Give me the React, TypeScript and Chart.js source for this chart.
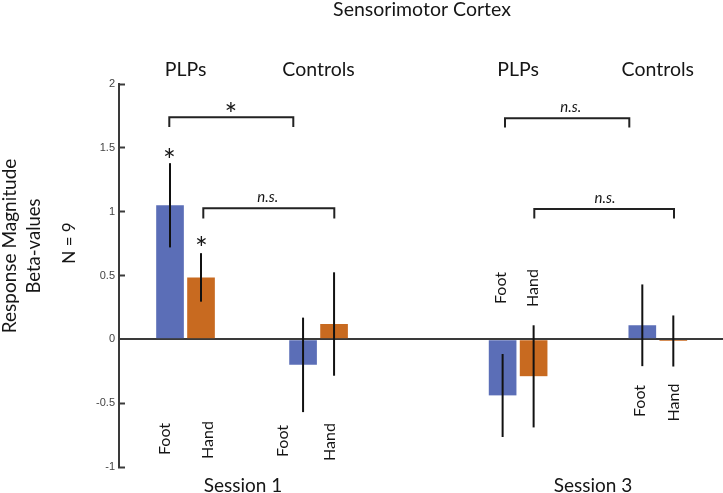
import React, { useEffect, useRef } from 'react';
import { Chart, registerables } from 'chart.js';

Chart.register(...registerables);

// ---- data ----
const groupLabels = ['PLPs', 'Controls', 'PLPs', 'Controls'];
const sessionLabels = ['Session 1', 'Session 3'];
const conditionLabels = ['Foot', 'Hand'];
const groupSlots = [1, 3, 6, 8.1];
const footValues = [1.05, -0.2, -0.44, 0.11];
const handValues = [0.485, 0.12, -0.29, -0.013];
const footErrors = [0.33, 0.37, 0.325, 0.32];
const handErrors = [0.19, 0.405, 0.4, 0.2];
const yMin = -1;
const yMax = 2;
const yStep = 0.5;

const BLUE = '#5B6EB7';
const ORANGE = '#C86A20';
const AXIS = '#3a3a3a';
const INK = '#161616';
const FONT = 'Lato, "Open Sans", sans-serif';

function drawText(
  ctx: CanvasRenderingContext2D,
  s: string,
  cx: number,
  cy: number,
  font: string,
  rot = 0,
  color = INK
) {
  ctx.save();
  ctx.font = font;
  ctx.fillStyle = color;
  ctx.textAlign = 'center';
  ctx.textBaseline = 'alphabetic';
  const m = ctx.measureText(s);
  const off = (m.actualBoundingBoxAscent - m.actualBoundingBoxDescent) / 2;
  ctx.translate(cx, cy);
  ctx.rotate(rot);
  ctx.fillText(s, 0, off);
  ctx.restore();
}

const annotationPlugin = {
  id: 'annotations',
  afterDraw(chart: any) {
    const ctx: CanvasRenderingContext2D = chart.ctx;
    const xs = chart.scales.x;
    const ys = chart.scales.y;

    // error bars
    const errs = [footErrors, handErrors];
    const vals = [footValues, handValues];
    ctx.save();
    ctx.strokeStyle = '#111';
    ctx.lineWidth = 2;
    for (let d = 0; d < 2; d++) {
      const meta = chart.getDatasetMeta(d);
      meta.data.forEach((bar: any, i: number) => {
        const top = ys.getPixelForValue(vals[d][i] + errs[d][i]);
        const bot = ys.getPixelForValue(vals[d][i] - errs[d][i]);
        ctx.beginPath();
        ctx.moveTo(bar.x, top);
        ctx.lineTo(bar.x, bot);
        ctx.stroke();
      });
    }
    ctx.restore();

    // title
    drawText(ctx, 'Sensorimotor Cortex', 422, 9, `19.5px ${FONT}`);

    // group labels
    groupLabels.forEach((g, i) => {
      drawText(ctx, g, xs.getPixelForValue(groupSlots[i]), 69, `19.5px ${FONT}`);
    });

    // session labels
    drawText(ctx, sessionLabels[0], 243, 485, `19px ${FONT}`);
    drawText(ctx, sessionLabels[1], 593, 485, `19px ${FONT}`);

    // y axis titles
    const R = -Math.PI / 2;
    drawText(ctx, 'Response Magnitude', 10, 246, `19px ${FONT}`, R);
    drawText(ctx, 'Beta-values', 33, 246, `18.5px ${FONT}`, R);
    drawText(ctx, 'N = 9', 68, 243, `17px ${FONT}`, R);

    // rotated condition labels
    const condPos: [number, number][][] = [
      [[164, 439], [207, 440]],
      [[282.5, 441], [329.7, 442]],
      [[500, 288], [532, 288]],
      [[639.3, 401], [673, 402.5]],
    ];
    condPos.forEach((pair) => {
      pair.forEach((p, c) => drawText(ctx, conditionLabels[c], p[0], p[1], `16px ${FONT}`, R));
    });

    // brackets
    ctx.save();
    ctx.strokeStyle = '#222';
    ctx.lineWidth = 2;
    const bracket = (x1: number, x2: number, y: number, y2: number) => {
      ctx.beginPath();
      ctx.moveTo(x1, y2);
      ctx.lineTo(x1, y);
      ctx.lineTo(x2, y);
      ctx.lineTo(x2, y2);
      ctx.stroke();
    };
    bracket(169.3, 293.3, 117.3, 127);
    bracket(203.3, 334.3, 208.3, 218.5);
    bracket(505, 629.3, 118.3, 127.5);
    bracket(534.3, 674, 209, 218.5);
    ctx.restore();

    // significance marks
    const starFont = `30px ${FONT}`;
    drawText(ctx, '*', 231, 106.7, starFont);
    drawText(ctx, '*', 169.3, 152.7, starFont);
    drawText(ctx, '*', 201.3, 240.7, starFont);
    const nsFont = `italic 15px ${FONT}`;
    drawText(ctx, 'n.s.', 267.7, 198, nsFont);
    drawText(ctx, 'n.s.', 570.7, 108.3, nsFont);
    drawText(ctx, 'n.s.', 605, 199.3, nsFont);
  },
};

export default function App() {
  const ref = useRef<HTMLCanvasElement | null>(null);

  useEffect(() => {
    if (!ref.current) return;
    const barCommon = {
      borderColor: 'rgba(0,0,0,0)',
      borderWidth: { left: 2, right: 2, top: 0, bottom: 0 },
      borderSkipped: false,
      barThickness: 31,
    };
    const chart = new Chart(ref.current, {
      type: 'bar',
      data: {
        datasets: [
          {
            label: conditionLabels[0],
            data: groupSlots.map((x, i) => ({ x, y: footValues[i] })),
            backgroundColor: BLUE,
            ...barCommon,
          },
          {
            label: conditionLabels[1],
            data: groupSlots.map((x, i) => ({ x, y: handValues[i] })),
            backgroundColor: ORANGE,
            ...barCommon,
          },
        ] as any,
      },
      options: {
        animation: false,
        responsive: false,
        maintainAspectRatio: false,
        layout: { padding: { left: 0, top: 84, right: 0, bottom: 26 } },
        plugins: { legend: { display: false }, tooltip: { enabled: false } },
        scales: {
          x: { type: 'linear', min: 0, max: 9.08, offset: false, display: false },
          y: {
            min: yMin,
            max: yMax,
            z: 1,
            afterFit: (s: any) => {
              s.width = 119;
            },
            border: { display: true, color: AXIS, width: 2 },
            grid: {
              drawOnChartArea: true,
              drawTicks: true,
              tickLength: -6,
              tickWidth: 2,
              tickColor: AXIS,
              color: (c: any) => (c.tick && c.tick.value === 0 ? AXIS : 'rgba(0,0,0,0)'),
              lineWidth: (c: any) => (c.tick && c.tick.value === 0 ? 2 : 1),
            },
            ticks: {
              stepSize: yStep,
              padding: 10,
              color: '#444',
              font: { family: '"Liberation Sans", Arial, sans-serif', size: 11 },
              callback: (v: any) => String(v),
            },
          },
        },
      } as any,
      plugins: [annotationPlugin],
    });
    return () => chart.destroy();
  }, []);

  return (
    <div style={{ position: 'absolute', left: 0, top: 0, width: 723, height: 493, background: '#fff' }}>
      <canvas ref={ref} width={723} height={493} style={{ display: 'block' }} />
    </div>
  );
}
